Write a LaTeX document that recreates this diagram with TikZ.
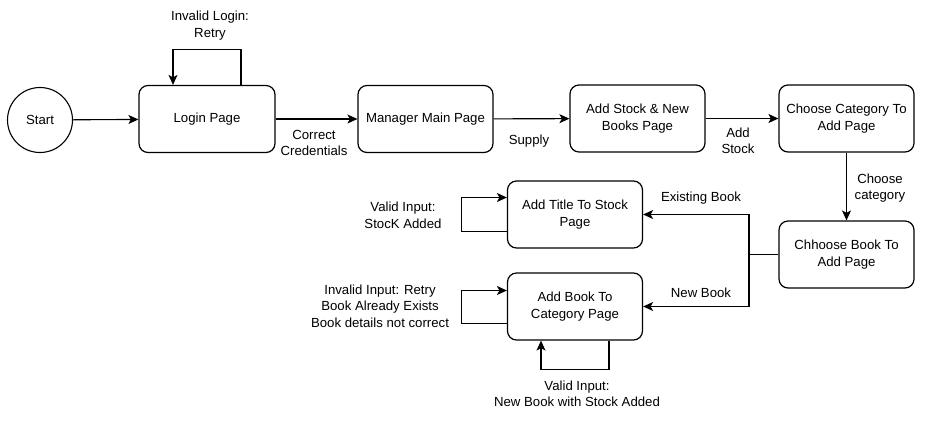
\documentclass[tikz,border=0pt]{standalone}
\usepackage{fontspec}
\setmainfont{Liberation Sans}
\usetikzlibrary{arrows.meta}
\begin{document}
\begin{tikzpicture}[x=1pt, y=-1pt,
  page/.style={draw, line width=1.2pt, rounded corners=9pt, minimum width=135pt, minimum height=67pt, align=center, font=\fontsize{13.2pt}{16.5pt}\selectfont},
  lbl/.style={align=center, inner sep=0pt, font=\fontsize{13.2pt}{16.5pt}\selectfont},
  arr/.style={-{Stealth[length=10pt,width=9pt,inset=2.5pt]}, line width=1.1pt}]
\useasboundingbox (0,0) rectangle (934,424);

% states
\node (start) at (40,120) [draw, circle, line width=1.1pt, minimum size=65pt, font=\fontsize{13.2pt}{16.5pt}\selectfont] {Start};
\node (login) at (207,119) [page, minimum width=136pt] {Login Page};
\node (mgr) at (425.5,119) [page] {Manager Main Page};
\node (stock) at (637.5,118.5) [page] {Add Stock \& New\\Books Page};
\node (cat) at (846.5,118.5) [page] {Choose Category To\\Add Page};
\node (book) at (846.5,254.5) [page] {Chhoose Book To\\Add Page};
\node (title) at (575,214.5) [page] {Add Title To Stock\\Page};
\node (addbook) at (575,306.5) [page] {Add Book To\\Category Page};
\coordinate (split) at (749,254.5);

% transitions
\draw[arr] (start) -- (login);
\draw[arr] (login) -- (mgr);
\draw[arr] (mgr) -- (stock);
\draw[arr] (stock) -- (cat);
\draw[arr] (cat) -- (book);
\draw[line width=1.1pt] (book) -- (split);
\draw[arr] (split) |- (title);
\draw[arr] (split) |- (addbook);

% loops
\draw[arr] ([xshift=34pt]login.north) -- ++(0,-35) -| ([xshift=-34pt]login.north);
\draw[arr] ([yshift=-17pt]title.west) -- ++(-45,0) |- ([yshift=17pt]title.west);
\draw[arr] ([yshift=-17pt]addbook.west) -- ++(-45,0) |- ([yshift=16pt]addbook.west);
\draw[arr] ([xshift=34pt]addbook.south) -- ++(0,29) -| ([xshift=-34pt]addbook.south);

% labels
\node (lretry) at (210,25.5) [lbl] {Invalid Login:\\ Retry};
\node (lcred) at (314,143) [lbl] {Correct\\Credentials};
\node (lsupply) at (529,141) [lbl] {Supply};
\node (laddst) at (738,141) [lbl] {Add\\Stock};
\node (lchoose) at (880,188) [lbl] {Choose\\category};
\node (lexist) at (701,198) [lbl] {Existing Book};
\node (lnew) at (701,293) [lbl] {New Book};
\node (lvalid) at (403,215.5) [lbl] {Valid Input:\\StocK Added};
\node (linvalid) at (380,306) [lbl] {Invalid Input: Retry\\Book Already Exists\\Book details not correct};
\node (lnewbook) at (577,394) [lbl] {Valid Input:\\New Book with Stock Added};
\end{tikzpicture}
\end{document}
